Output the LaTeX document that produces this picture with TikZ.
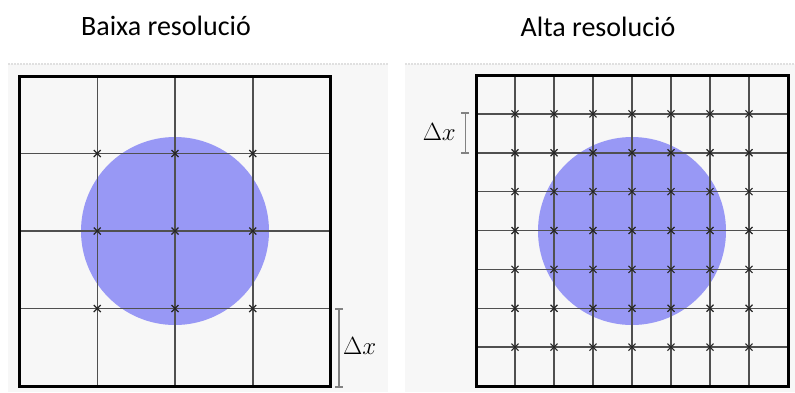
\documentclass[tikz,border=0pt]{standalone}
\usepackage{fontspec}
\setmainfont{Carlito}
\definecolor{disc}{RGB}{152,152,245}
\definecolor{panelbg}{RGB}{247,247,247}
\definecolor{gridc}{RGB}{80,80,80}
\definecolor{brackc}{RGB}{130,130,130}
\begin{document}
\begin{tikzpicture}[x=1pt,y=-1pt,
  panel/.style={fill=panelbg,draw=none},
  gridline/.style={draw=gridc,line width=1.5pt},
  frame/.style={draw=black,line width=3pt},
  crossmark/.style={draw=black!85,line width=1.1pt},
  bracket/.style={draw=brackc,line width=1.1pt},
  title/.style={font=\fontsize{28}{30}\selectfont,inner sep=0pt,anchor=base},
  dxlabel/.style={font=\fontsize{26}{28}\selectfont,inner sep=0pt}]
\useasboundingbox (0,0) rectangle (795,392);
\fill[white] (0,0) rectangle (795,392);
% panels
\fill[panel] (8,64) rectangle (388,392);
\fill[panel] (405,64) rectangle (795,392);
\draw[black!12,line width=1.5pt,dash pattern=on 1.5pt off 1.5pt] (8,64) -- (388,64);
\draw[black!12,line width=1.5pt,dash pattern=on 1.5pt off 1.5pt] (405,64) -- (795,64);
% titles
\node[title] (tlow) at (166,35) {Baixa resolució};
\node[title] (thigh) at (598,36) {Alta resolució};
% left panel
\fill[disc] (175,231) circle (94);
\foreach \k in {1,2,3}{
  \draw[gridline] ({19.5+77.75*\k},76) -- ({19.5+77.75*\k},386);
  \draw[gridline] (19.5,{76+77.5*\k}) -- (330.5,{76+77.5*\k});
}
\foreach \i in {1,2,3}{\foreach \j in {1,2,3}{
  \draw[crossmark] ({19.5+77.75*\i-3.5},{76+77.5*\j-3.5}) -- ++(7,7);
  \draw[crossmark] ({19.5+77.75*\i-3.5},{76+77.5*\j+3.5}) -- ++(7,-7);
}}
\draw[frame] (19.5,76) rectangle (330.5,386);
% left bracket
\coordinate (lb1) at (339,309);
\coordinate (lb2) at (339,387);
\draw[bracket] (lb1) -- (lb2);
\draw[bracket] ([xshift=-4pt]lb1) -- ([xshift=4pt]lb1);
\draw[bracket] ([xshift=-4pt]lb2) -- ([xshift=4pt]lb2);
\node[dxlabel,anchor=west] (dxl) at (343,346) {$\Delta x$};
% right panel
\fill[disc] (632,231) circle (94);
\foreach \k in {1,...,7}{
  \draw[gridline] ({476+39*\k},75) -- ({476+39*\k},386);
  \draw[gridline] (476,{75+38.875*\k}) -- (788,{75+38.875*\k});
}
\foreach \i in {1,...,7}{\foreach \j in {1,...,7}{
  \draw[crossmark] ({476+39*\i-3.5},{75+38.875*\j-3.5}) -- ++(7,7);
  \draw[crossmark] ({476+39*\i-3.5},{75+38.875*\j+3.5}) -- ++(7,-7);
}}
\draw[frame] (476,75) rectangle (788,386);
% right bracket
\coordinate (rb1) at (465.3,113);
\coordinate (rb2) at (465.3,153);
\draw[bracket] (rb1) -- (rb2);
\draw[bracket] ([xshift=-4pt]rb1) -- ([xshift=4pt]rb1);
\draw[bracket] ([xshift=-4pt]rb2) -- ([xshift=4pt]rb2);
\node[dxlabel,anchor=east] (dxr) at (456,132) {$\Delta x$};
\end{tikzpicture}
\end{document}
